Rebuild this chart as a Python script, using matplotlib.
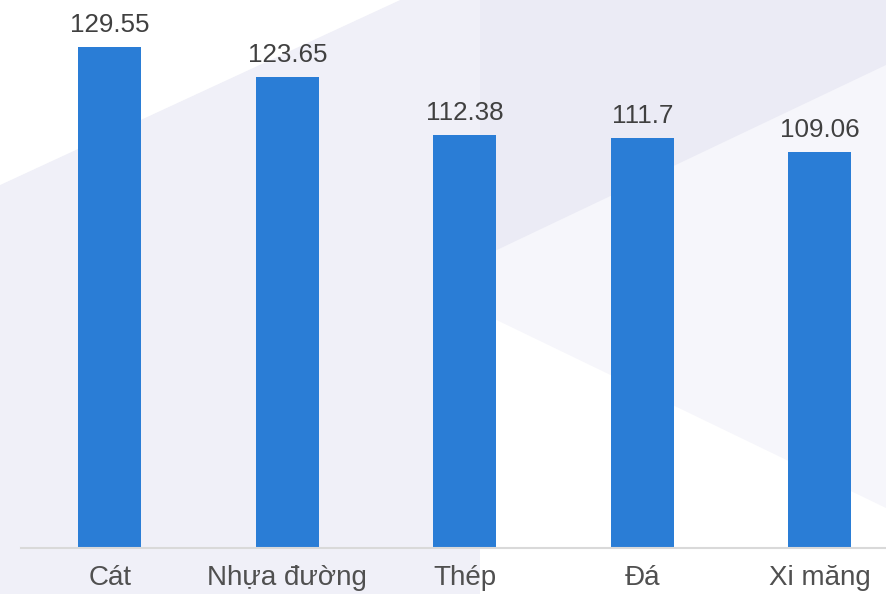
import matplotlib
matplotlib.use('Agg')
from matplotlib import pyplot as plt
from matplotlib.patches import Polygon

plt.rcParams['font.family'] = ['Liberation Sans', 'DejaVu Sans']

categories = ['Cát', 'Nhựa đường', 'Thép', 'Đá', 'Xi măng']
values = [129.55, 123.65, 112.38, 111.7, 109.06]

W, H = 886, 594
fig = plt.figure(figsize=(W / 100, H / 100), dpi=100)

# soft background shapes, in pixel coords of the figure
bg = fig.add_axes([0, 0, 1, 1], zorder=0)
bg.set_xlim(0, W)
bg.set_ylim(H, 0)
bg.axis('off')
bg.add_patch(Polygon([(0, 0), (W, 0), (W, H), (0, H)], facecolor='#F6F6FB', edgecolor='none'))
bg.add_patch(Polygon([(0, 185), (400, 0), (480, 0), (480, H), (0, H)], facecolor='#F0F0F8', edgecolor='none'))
bg.add_patch(Polygon([(0, 0), (400, 0), (0, 185)], facecolor='white', edgecolor='none'))
bg.add_patch(Polygon([(480, 0), (W, 0), (W, 65), (480, 258)], facecolor='#EBEBF5', edgecolor='none'))
bg.add_patch(Polygon([(480, 312), (W, 508), (W, H), (480, H)], facecolor='white', edgecolor='none'))

ax = fig.add_axes([21 / W, 46 / H, (W - 21) / W, 548 / H], zorder=1)
ax.patch.set_alpha(0)

x = range(len(categories))
bars = ax.bar(x, values, width=0.355, color='#2A7DD6', zorder=2)

for xi, v in zip(x, values):
    ax.annotate(str(v), (xi, v), xytext=(0, 10.8), textcoords='offset points',
                ha='center', va='baseline', fontsize=18.7, color='#404040')

ax.set_xlim(-0.5, -0.5 + (W - 21) / 177.5)
ax.set_ylim(31, 138.9)
ax.set_xticks(list(x))
ax.set_xticklabels(categories, fontsize=20, color='#505050')
ax.tick_params(axis='x', length=0, pad=12.5)
ax.set_yticks([])
for s in ['top', 'left', 'right']:
    ax.spines[s].set_visible(False)
ax.spines['bottom'].set_color('#D9D9D9')
ax.spines['bottom'].set_linewidth(1.5)

fig.savefig('out.png', dpi=100)
